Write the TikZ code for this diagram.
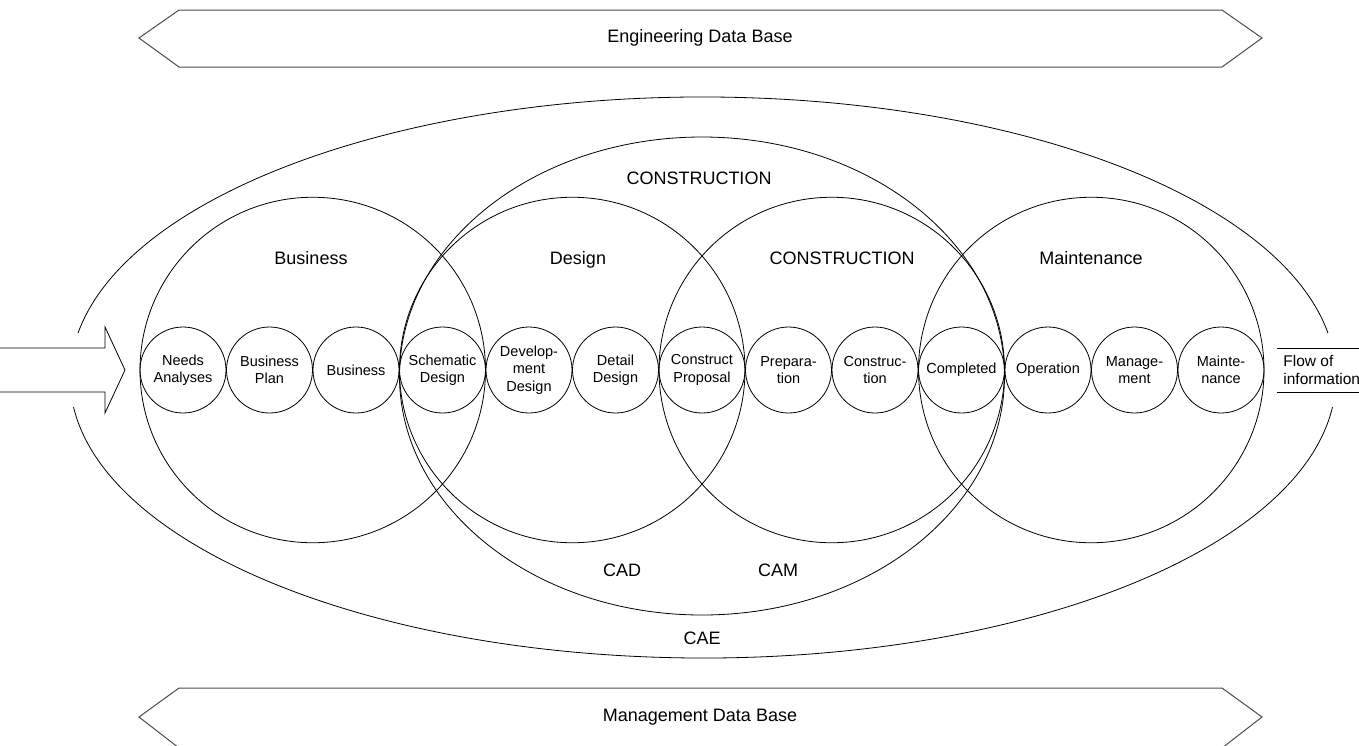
\documentclass[tikz,border=0pt]{standalone}
\usepackage{fontspec}
\setmainfont{Liberation Sans}
\usetikzlibrary{shapes.geometric}
\begin{document}
\begin{tikzpicture}[x=1pt, y=-1pt, line width=0.8pt]
\tikzset{phase/.style={draw, circle, minimum size=86pt, inner sep=0pt, align=center, font=\fontsize{14.5}{17.5}\selectfont},
  stage/.style={draw, circle, minimum size=345.5pt, inner sep=0pt},
  heading/.style={font=\fontsize{18}{21}\selectfont, text height=13pt, text depth=4pt},
  banner/.style={draw=black!70, line width=1pt}}
\useasboundingbox (0,0) rectangle (1359,745);
% data bases
\draw[banner] (139,38) -- (179,10) -- (1222,10) -- (1262,38) -- (1222,67) -- (179,67) -- cycle;
\node[heading] (edb) at (700,38) {Engineering Data Base};
\draw[banner] (139,717) -- (179,688) -- (1222,688) -- (1262,717) -- (1222,748) -- (179,748) -- cycle;
\node[heading] (mdb) at (700,717) {Management Data Base};
% CAE
\coordinate (cae) at (703,377.5);
\draw (cae) ++(189.13:633 and 280.5) arc[start angle=189.13, end angle=350.87, x radius=633, y radius=280.5];
\draw (cae) ++(6.04:633 and 280.5) arc[start angle=6.04, end angle=173.96, x radius=633, y radius=280.5];
\node[draw, ellipse, minimum width=605pt, minimum height=478pt, inner sep=0pt] (constr) at (702,376) {};
% stages
\node[stage] (business) at (312.75,370) {};
\node[stage] (design) at (572.25,370) {};
\node[stage] (construction) at (831.75,370) {};
\node[stage] (maintenance) at (1091.25,370) {};
\foreach \txt [count=\i] in {Needs\\Analyses, Business\\Plan, Business, Schematic\\Design, Develop-\\ment\\Design, Detail\\Design, Construct\\Proposal, Prepara-\\tion, Construc-\\tion, Completed, Operation, Manage-\\ment, Mainte-\\nance}
  \node[phase] (s\i) at ({183+(\i-1)*86.5},370) {\txt};
\node[heading] at (311,260) {Business};
\node[heading] at (578,260) {Design};
\node[heading] at (842,260) {CONSTRUCTION};
\node[heading] at (1091,260) {Maintenance};
\node[heading] at (699,180) {CONSTRUCTION};
\node[heading] at (622,572) {CAD};
\node[heading] at (778,572) {CAM};
\node[heading] at (702,640) {CAE};
% flow
\draw (-2,348) -- (105,348) -- (105,327) -- (125,370) -- (105,413) -- (105,392) -- (-2,392);
\draw (1277,348) -- (1362,348) (1277,392) -- (1362,392);
\node[anchor=west, align=left, inner sep=0pt, font=\fontsize{15.5}{18}\selectfont] (flow) at (1283,370) {Flow of\\information};
\end{tikzpicture}
\end{document}
